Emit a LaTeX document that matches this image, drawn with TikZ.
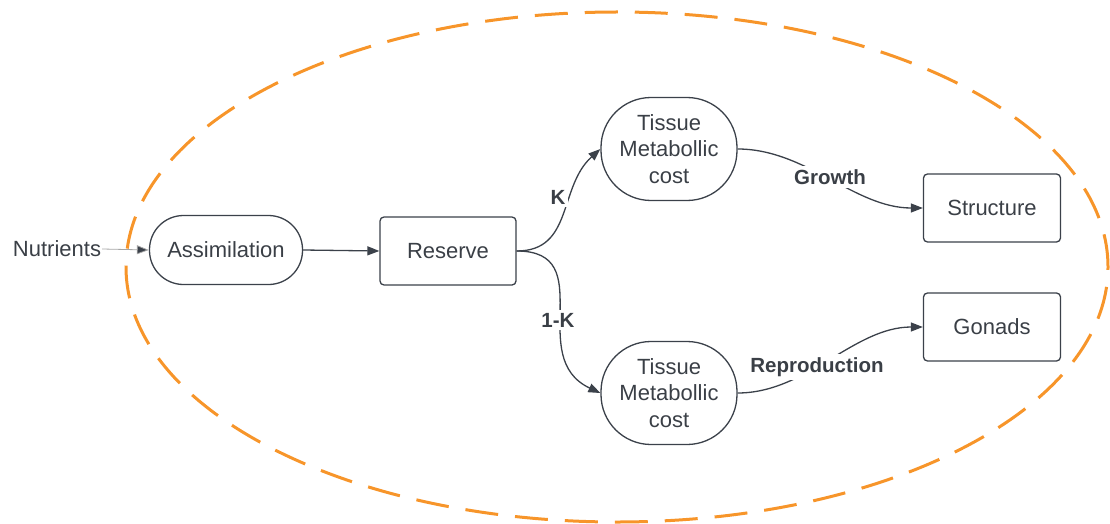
\documentclass[tikz,border=0pt]{standalone}
\usepackage{fontspec}
\setmainfont{Liberation Sans}
\usetikzlibrary{arrows.meta,calc}
\definecolor{ink}{HTML}{3B414A}
\definecolor{txt}{HTML}{3A3F46}
\definecolor{ora}{HTML}{F7952A}
\tikzset{
  base/.style={draw=ink, line width=1.3pt, text=txt, font=\fontsize{22}{26.5}\selectfont, align=center, inner sep=2pt},
  stadium/.style={base, minimum width=153pt, minimum height=69pt, rounded corners=34pt},
  boxnode/.style={base, minimum width=136pt, minimum height=68pt, rounded corners=4pt},
  tissue/.style={base, minimum width=136pt, minimum height=103pt, rounded corners=50pt},
  plain/.style={text=txt, font=\fontsize{22}{26}\selectfont, inner sep=1pt},
  lbl/.style={fill=white, text=txt, font=\bfseries\fontsize{20.5}{23}\selectfont, inner sep=3pt},
  arr/.style={draw=ink, line width=1.3pt, -{Triangle[length=12pt,width=9pt]}},
  thinarr/.style={draw=gray!70, line width=0.8pt, -{Triangle[length=12pt,width=9pt,fill=ink]}},
}
\begin{document}
\begin{tikzpicture}[x=1pt,y=1pt]
\useasboundingbox (0,0) rectangle (1110,-524);
\draw[ora, line width=3pt, dash pattern=on 33pt off 17pt] (617,-267) ellipse [x radius=491, y radius=255];

\node[plain] (nut) at (57,-249) {Nutrients};
\node[stadium] (asm) at (226,-250) {Assimilation};
\node[boxnode] (res) at (448,-251) {Reserve};
\node[tissue] (t1) at (669,-149) {Tissue\\Metabollic\\cost};
\node[tissue] (t2) at (669,-393) {Tissue\\Metabollic\\cost};
\node[boxnode, minimum width=137pt] (str) at (992,-208) {Structure};
\node[boxnode, minimum width=137pt] (gon) at (992,-327) {Gonads};

\draw[thinarr] (nut.east) -- (asm.west);
\draw[arr] (asm.east) -- (res.west);
\draw[arr] (res.east) to[out=0,in=222,looseness=1.1] (t1.west);
\draw[arr] (res.east) to[out=0,in=155,looseness=1.3] (t2.west);
\draw[arr] (t1.east) to[out=0,in=180,looseness=0.9] (str.west);
\draw[arr] (t2.east) to[out=0,in=180,looseness=0.9] (gon.west);

\node[lbl] (lk) at (558,-197) {K};
\node[lbl] (l1k) at (558,-320) {1-K};
\node[lbl] (lg) at (830,-177) {Growth};
\node[lbl] (lr) at (817,-367) {Reproduction};
\end{tikzpicture}
\end{document}
